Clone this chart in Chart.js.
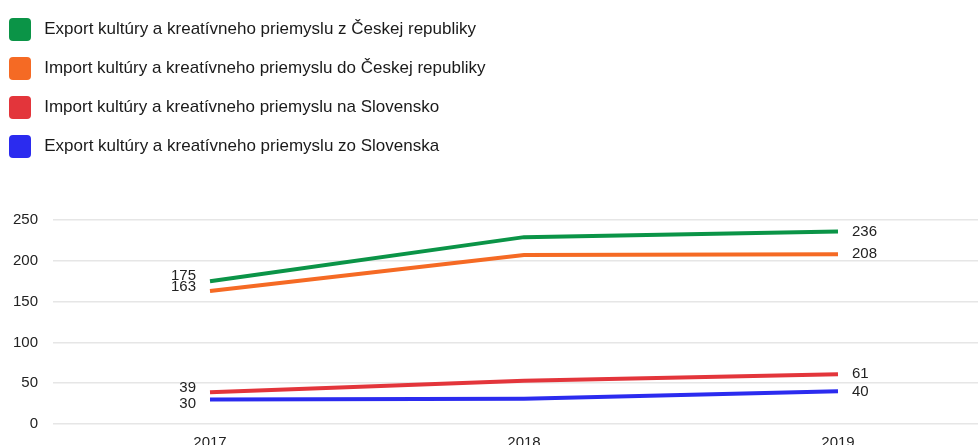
<!DOCTYPE html>
<html>
<head>
<meta charset="utf-8">
<script src="https://cdn.jsdelivr.net/npm/chart.js@4/dist/chart.umd.min.js"></script>
<style>
  html, body { margin: 0; padding: 0; background: #fff; overflow: hidden; }
  #wrap { position: relative; width: 1002px; height: 462px; margin-left: -7px; }
</style>
</head>
<body>
<div id="wrap"><canvas id="lineChart"></canvas></div>
<script>
// years on the x axis
const years = ['2017', '2018', '2019'];

// series labels and values (mil. EUR)
const seriesNames = [
  'Export kultúry a kreatívneho priemyslu z Českej republiky',
  'Import kultúry a kreatívneho priemyslu do Českej republiky',
  'Import kultúry a kreatívneho priemyslu na Slovensko',
  'Export kultúry a kreatívneho priemyslu zo Slovenska'
];
const exportCZ = [175, 229, 236];
const importCZ = [163, 207, 208];
const importSK = [39, 53, 61];
const exportSK = [30, 31, 40];

const seriesColors = ['#0b9447', '#f56a24', '#e3353b', '#2b2bef'];

const fontFamily = '"Liberation Sans", Arial, sans-serif';

// labels on first and last point of each line (first ones nudged so they don't collide)
const firstNudge = [-5, -4, -4, 4];
const endLabels = {
  id: 'endLabels',
  afterDatasetsDraw(chart) {
    const ctx = chart.ctx;
    ctx.save();
    ctx.font = '15px ' + fontFamily;
    ctx.fillStyle = '#222';
    ctx.textBaseline = 'middle';
    chart.data.datasets.forEach((ds, i) => {
      const pts = chart.getDatasetMeta(i).data;
      const first = pts[0], last = pts[pts.length - 1];
      ctx.textAlign = 'right';
      ctx.fillText(ds.data[0], first.x - 14, first.y + firstNudge[i]);
      ctx.textAlign = 'left';
      ctx.fillText(ds.data[ds.data.length - 1], last.x + 14, last.y);
    });
    ctx.restore();
  }
};

// one legend item per row, plus some space under the legend
const LEGEND_W = 600;
const legendRows = {
  id: 'legendRows',
  beforeInit(chart) {
    const fit = chart.legend.fit;
    chart.legend.fit = function() {
      this.maxWidth = Math.min(this.maxWidth, LEGEND_W);
      fit.call(this);
      this.height += 52;
    };
  },
  afterLayout(chart) {
    chart.legend.right = chart.legend.left + LEGEND_W;
  }
};

const ctx = document.getElementById('lineChart').getContext('2d');
new Chart(ctx, {
  type: 'line',
  data: {
    labels: years,
    datasets: [exportCZ, importCZ, importSK, exportSK].map((vals, i) => ({
      label: seriesNames[i],
      data: vals,
      borderColor: seriesColors[i],
      backgroundColor: seriesColors[i],
      borderWidth: 4,
      pointRadius: 0,
      tension: 0
    }))
  },
  options: {
    responsive: true,
    maintainAspectRatio: false,
    animation: false,
    layout: { padding: { top: 2, left: 0, right: 0, bottom: 0 } },
    plugins: {
      legend: {
        position: 'top',
        align: 'start',
        labels: {
          font: { family: fontFamily, size: 17 },
          color: '#1a1a1a',
          boxWidth: 22,
          boxHeight: 23,
          padding: 16,
          useBorderRadius: true,
          borderRadius: 4,
          generateLabels(chart) {
            return Chart.defaults.plugins.legend.labels.generateLabels(chart).map(item => {
              item.lineWidth = 0;
              item.text = ' ' + item.text;
              return item;
            });
          }
        }
      },
      tooltip: { enabled: false }
    },
    scales: {
      x: {
        offset: true,
        grid: { display: false, drawTicks: false },
        border: { display: false },
        ticks: { font: { family: fontFamily, size: 15 }, color: '#222', padding: 10 }
      },
      y: {
        min: 0,
        max: 250,
        ticks: { stepSize: 50, font: { family: fontFamily, size: 15 }, color: '#222', padding: 15 },
        grid: { color: '#e6e6e6', lineWidth: 1.5, drawTicks: false },
        border: { display: false },
        afterFit(scale) { scale.width = 60; }
      }
    }
  },
  plugins: [endLabels, legendRows]
});
</script>
</body>
</html>
